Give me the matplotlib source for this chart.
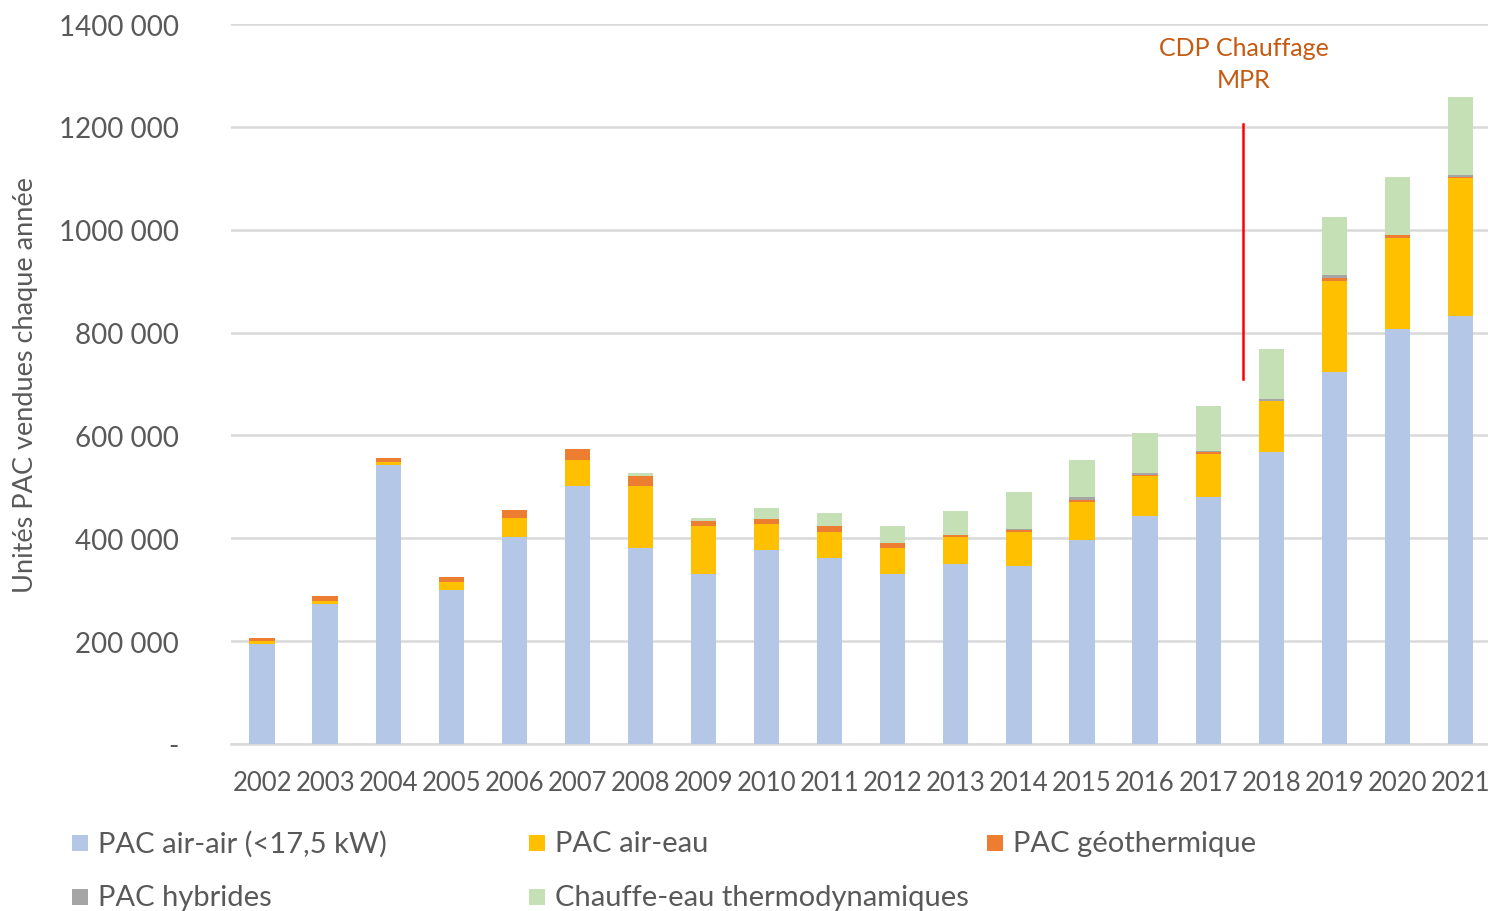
import matplotlib
matplotlib.use("Agg")
import matplotlib.pyplot as plt
from matplotlib.patches import Rectangle
from matplotlib.ticker import FuncFormatter
import numpy as np

plt.rcParams['font.family'] = ['Lato', 'DejaVu Sans']

years = [str(y) for y in range(2002, 2022)]
air_air = [195000, 273000, 543000, 299000, 403000, 501000, 381000, 330000, 377000, 361000,
           330000, 350000, 346000, 397000, 443000, 480000, 568000, 723000, 807000, 832000]
air_eau = [6000, 5000, 6000, 16000, 36000, 51000, 120000, 93000, 51000, 51000,
           51000, 53000, 66000, 74000, 78000, 83000, 98000, 178000, 177000, 269000]
geo = [5000, 10000, 8000, 10000, 16000, 21000, 20000, 10000, 10000, 11000,
       10000, 4000, 5000, 4000, 2000, 5000, 1000, 5000, 5000, 1000]
hybrides = [0, 0, 0, 0, 0, 0, 0, 0, 0, 0,
            0, 0, 2000, 5000, 4000, 1000, 4000, 5000, 1000, 5000]
cet = [0, 0, 0, 0, 0, 0, 6000, 6000, 21000, 27000,
       32000, 47000, 71000, 73000, 78000, 88000, 98000, 114000, 113000, 151000]

series_names = ["PAC air-air (<17,5 kW)", "PAC air-eau", "PAC géothermique",
                "PAC hybrides", "Chauffe-eau thermodynamiques"]
series_colors = ["#B4C7E7", "#FFC000", "#ED7D31", "#A5A5A5", "#C5E0B4"]
series_values = [air_air, air_eau, geo, hybrides, cet]

yticks = [0, 200000, 400000, 600000, 800000, 1000000, 1200000, 1400000]
annot_x = 15.56
annot_y = (710000, 1206000)
annot_text = "CDP Chauffage\nMPR"

W, H = 1488, 912
fig = plt.figure(figsize=(W / 100, H / 100), dpi=100)
ax_left, ax_right = 230.5, 1492
ax = fig.add_axes([ax_left / W, 1 - 745 / H, (ax_right - ax_left) / W, (745 - 25) / H])

x = np.arange(len(years))
bottom = np.zeros(len(years))
for vals, col, name in zip(series_values, series_colors, series_names):
    v = np.array(vals, dtype=float)
    ax.bar(x, v, bottom=bottom, width=0.4, color=col, label=name, zorder=3)
    bottom += v

ax.set_xlim(-0.5, len(years) - 0.5)
ax.set_ylim(0, 1400000)
ax.set_yticks(yticks)

def fmt(v, pos):
    if v == 0:
        return "-"
    s = f"{int(v):,}".replace(",", " ")
    if v >= 1000000:
        s = s.replace(" ", "", 1)
    return s

ax.yaxis.set_major_formatter(FuncFormatter(fmt))
ax.set_xticks(x)
ax.set_xticklabels(years)
ax.grid(axis='y', color='#D9D9D9', linewidth=1.8, zorder=0)
ax.tick_params(axis='y', length=0, pad=37, labelsize=20, labelcolor='#595959')
ax.tick_params(axis='x', length=0, pad=19, labelsize=18.5, labelcolor='#595959')
for s in ['top', 'right', 'left']:
    ax.spines[s].set_visible(False)
ax.spines['bottom'].set_color('#D9D9D9')
ax.spines['bottom'].set_linewidth(1.8)
ax.set_ylabel("Unités PAC vendues chaque année", fontsize=19.5, color='#595959')
ax.yaxis.set_label_coords(-(ax_left - 38) / (ax_right - ax_left), 0.5)

ax.plot([annot_x, annot_x], list(annot_y), color='#FF0000', linewidth=1.8, zorder=4)
ax.text(annot_x, 1323000, annot_text, ha='center', va='center', fontsize=18,
        color='#C55A11', linespacing=1.45)

# legend
leg_pos = [(72, 844), (529, 844), (987, 844), (72, 898), (529, 898)]
for (px, py), name, col in zip(leg_pos, series_names, series_colors):
    fig.add_artist(Rectangle((px / W, 1 - (py + 8) / H), 16 / W, 16 / H,
                             facecolor=col, edgecolor='none', transform=fig.transFigure))
    fig.text((px + 26) / W, 1 - py / H, name, fontsize=21, color='#595959',
             ha='left', va='center')

fig.savefig("out.png", dpi=100)
